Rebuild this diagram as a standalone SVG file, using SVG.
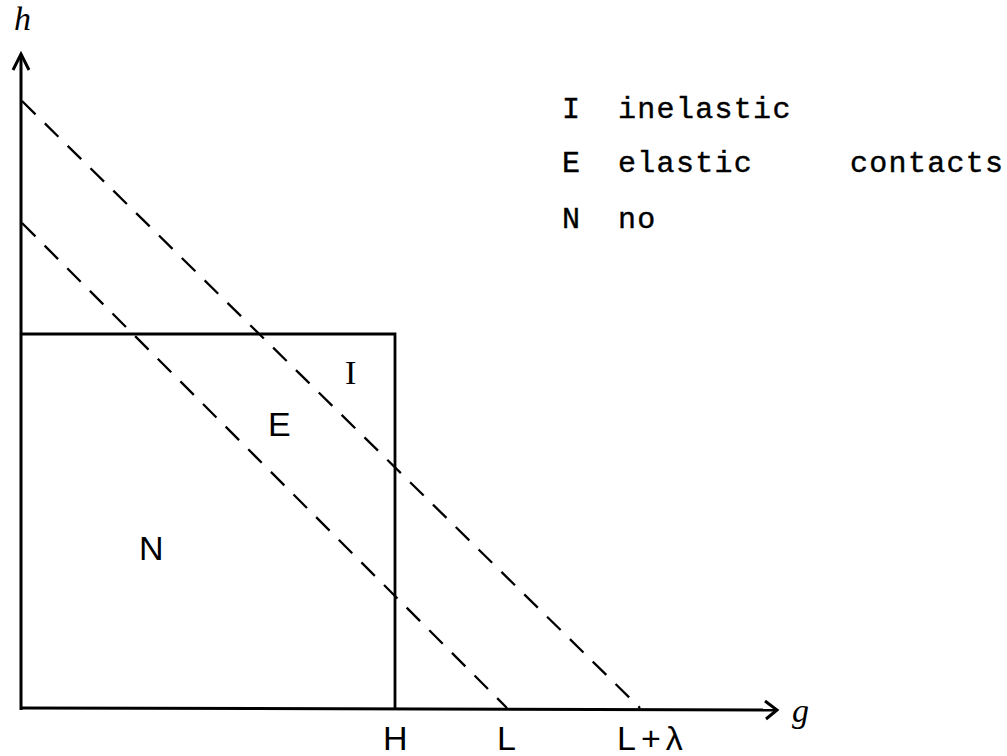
<svg xmlns="http://www.w3.org/2000/svg" width="1007" height="756" viewBox="0 0 1007 756">
<style>
.ax{stroke:#000;stroke-width:3;fill:none}
.box{stroke:#000;stroke-width:2.8;fill:none}
.dash{stroke:#000;stroke-width:2.3;fill:none;stroke-dasharray:19 13}
.hand{font-family:"Liberation Sans",Arial,sans-serif;font-size:34px;fill:#000}
.var{font-family:"Liberation Serif",serif;font-style:italic;font-size:34px;fill:#000}
.leg{font-family:"Liberation Mono","Courier New",monospace;font-size:30px;letter-spacing:1.3px;fill:#000;stroke:#000;stroke-width:0.4}
</style>
<rect width="1007" height="756" fill="#fff"/>
<g id="axes">
<line class="ax" x1="21" y1="710" x2="21" y2="54"/>
<polyline class="ax" points="13,70 21,54 29,70"/>
<line class="ax" x1="21" y1="708" x2="776" y2="710"/>
<polyline class="ax" points="765,701 777,710 766,719"/>
<text class="var" x="14" y="30">h</text>
<text class="var" x="792" y="722">g</text>
</g>
<g id="box">
<polyline class="box" points="21,334 395,334 395,708"/>
</g>
<g id="connectors">
<line class="dash" x1="22" y1="101" x2="640" y2="708"/>
<line class="dash" x1="22" y1="223" x2="507" y2="708"/>
</g>
<g id="region-I"><text class="hand" x="345" y="384" style="font-family:'Liberation Serif',serif">I</text></g>
<g id="region-E"><text class="hand" x="268" y="436">E</text></g>
<g id="region-N"><text class="hand" x="139" y="560">N</text></g>
<g id="ticks">
<text class="hand" x="383" y="750">H</text>
<text class="hand" x="497" y="750">L</text>
<text class="hand" x="617" y="750" letter-spacing="5">L+λ</text>
</g>
<g id="legend">
<text class="leg" x="562" y="118">I</text>
<text class="leg" x="618" y="118">inelastic</text>
<text class="leg" x="562" y="172">E</text>
<text class="leg" x="618" y="172">elastic</text>
<text class="leg" x="850" y="172">contacts</text>
<text class="leg" x="562" y="228">N</text>
<text class="leg" x="618" y="228">no</text>
</g>
</svg>
